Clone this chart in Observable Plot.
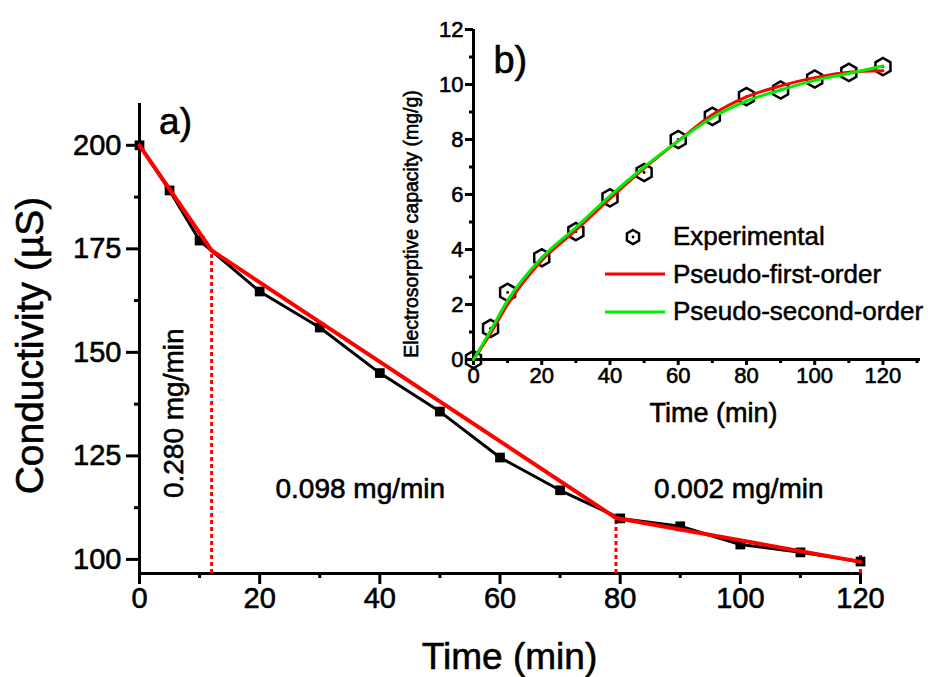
<!DOCTYPE html>
<html><head><meta charset="utf-8">
<script src="https://cdn.jsdelivr.net/npm/d3@7"></script>
<script src="https://cdn.jsdelivr.net/npm/@observablehq/plot@0.6"></script>
<style>
body{margin:0;background:#fff;}
#wrap{position:relative;width:931px;height:677px;overflow:hidden;}
#main{position:absolute;left:0;top:0;}
#inset{position:absolute;left:380px;top:0;}
#wrap svg text{stroke:#000;stroke-width:0.6px;}
#legend{position:absolute;left:600px;top:218px;font-family:"Liberation Sans",Arial,sans-serif;font-size:26px;color:#000;-webkit-text-stroke:0.5px #000;}
#legend .row{display:flex;align-items:center;height:37.5px;white-space:nowrap;}
#legend svg{width:73px;height:20px;flex:none;}
</style></head><body><div id="wrap"><div id="main"></div><div id="inset"></div><div id="legend"></div></div>
<script>
// ---- Panel a) data ----
const time = [0, 5, 10, 20, 30, 40, 50, 60, 70, 80, 90, 100, 110, 120];
const conductivity = [200, 189.1, 177, 164.7, 156, 145, 135.7, 124.6, 116.7, 109.9, 108, 103.6, 101.7, 99.5];
const fitTime = [0, 12, 79.3, 120];
const fitConductivity = [200, 174.6, 110, 99.4];
const breakTime = [12, 79.3, 120];
const breakTop = [174.6, 110, 101.5];
const rateLabels = ["0.280 mg/min", "0.098 mg/min", "0.002 mg/min"];
const rateX = [5.83, 36.75, 99.75];
const rateY = [135.3, 117.1, 117.1];
const rateRotate = [-90, 0, 0];
const xTicksA = [0, 20, 40, 60, 80, 100, 120];
const xMinorA = [10, 30, 50, 70, 90, 110];
const yTicksA = [100, 125, 150, 175, 200];
const yMinorA = [112.5, 137.5, 162.5, 187.5];

// ---- Panel b) data ----
const expTime = [0, 5, 10, 20, 30, 40, 50, 60, 70, 80, 90, 100, 110, 120];
const capacity = [0, 1.13, 2.44, 3.7, 4.65, 5.88, 6.8, 8.0, 8.84, 9.56, 9.8, 10.2, 10.44, 10.65];
const fitT = [0, 5, 10, 20, 30, 40, 50, 60, 70, 80, 90, 100, 110, 120];
const firstOrder = [0, 0.95, 2.0, 3.6, 4.7, 5.85, 6.95, 7.95, 8.9, 9.55, 9.95, 10.25, 10.45, 10.5];
const secondOrder = [0, 1.05, 2.15, 3.7, 4.8, 5.95, 7.0, 7.95, 8.8, 9.4, 9.8, 10.15, 10.4, 10.67];
const legendNames = ["Experimental", "Pseudo-first-order", "Pseudo-second-order"];
const xTicksB = [0, 20, 40, 60, 80, 100, 120];
const xMinorB = [10, 30, 50, 70, 90, 110, 130];
const yTicksB = [0, 2, 4, 6, 8, 10, 12];
const yMinorB = [1, 3, 5, 7, 9, 11];

const FONT = `"Liberation Sans",Arial,sans-serif`;

const dataA = time.map((t, i) => ({t, c: conductivity[i]}));
const fitA = fitTime.map((t, i) => ({t, c: fitConductivity[i]}));
const breaksA = breakTime.map((t, i) => ({t, top: breakTop[i]}));
const ratesA = rateLabels.map((s, i) => ({s, x: rateX[i], y: rateY[i], r: rateRotate[i]}));
const yMinA = 96.6, yMaxA = 210.1;

const main = Plot.plot({
  width: 931, height: 677,
  marginLeft: 139, marginRight: 71, marginTop: 103, marginBottom: 104,
  style: {fontFamily: FONT, background: "transparent", overflow: "visible", color: "#000"},
  x: {domain: [0, 120]},
  y: {domain: [yMinA, yMaxA]},
  marks: [
    Plot.axisX({ticks: xTicksA, tickSize: 11, tickPadding: 3, fontSize: 29, strokeWidth: 3, label: null}),
    Plot.axisX({ticks: xMinorA, tickSize: 5, strokeWidth: 3, text: null, label: null}),
    Plot.axisY({ticks: yTicksA, tickSize: 13, tickPadding: 5, fontSize: 29, strokeWidth: 3, label: null}),
    Plot.axisY({ticks: yMinorA, tickSize: 5, strokeWidth: 3, text: null, label: null}),
    Plot.ruleX([0], {y1: yMinA, y2: yMaxA, strokeWidth: 3}),
    Plot.ruleY([yMinA], {x1: 0, x2: 120, strokeWidth: 3}),
    Plot.ruleX(breaksA, {x: "t", y1: yMinA, y2: "top", stroke: "#ff0000", strokeWidth: 3, strokeDasharray: "4,3"}),
    Plot.line(dataA, {x: "t", y: "c", stroke: "#000", strokeWidth: 3}),
    Plot.dot(dataA, {x: "t", y: "c", symbol: "square", r: 5.5, fill: "#000", stroke: "none"}),
    Plot.line(fitA, {x: "t", y: "c", stroke: "#ff0000", strokeWidth: 4}),
    Plot.text(ratesA, {x: "x", y: "y", text: "s", rotate: "r", fontSize: 28, fill: "#000"}),
    Plot.text(["a)"], {x: 6, y: 205.6, fontSize: 37, fill: "#000"}),
    Plot.text(["Time (min)"], {frameAnchor: "bottom", textAnchor: "middle", lineAnchor: "middle", dx: 9.5, dy: 83.5, fontSize: 37, fill: "#000"}),
    Plot.text(["Conductivity (\u00b5S)"], {frameAnchor: "left", textAnchor: "middle", lineAnchor: "middle", dx: -108.5, dy: 7, rotate: -90, fontSize: 39, fill: "#000"})
  ]
});
document.getElementById("main").appendChild(main);

const expB = expTime.map((t, i) => ({t, q: capacity[i]}));
const fitsB = [
  ...fitT.map((t, i) => ({t, q: firstOrder[i], model: legendNames[1]})),
  ...fitT.map((t, i) => ({t, q: secondOrder[i], model: legendNames[2]}))
];
const colors = {[legendNames[1]]: "#ff0000", [legendNames[2]]: "#00ee00"};

const inset = Plot.plot({
  width: 551, height: 430,
  marginLeft: 93, marginRight: 11, marginTop: 29, marginBottom: 71,
  style: {fontFamily: FONT, background: "transparent", overflow: "visible", color: "#000"},
  x: {domain: [0, 131]},
  y: {domain: [0, 12]},
  marks: [
    Plot.axisX({ticks: xTicksB, tickSize: 6, tickPadding: 2, fontSize: 22, strokeWidth: 3, label: null}),
    Plot.axisX({ticks: xMinorB, tickSize: 4, strokeWidth: 3, text: null, label: null}),
    Plot.axisY({ticks: yTicksB, tickSize: 8, tickPadding: 2, fontSize: 22, strokeWidth: 3, label: null}),
    Plot.axisY({ticks: yMinorB, tickSize: 4, strokeWidth: 3, text: null, label: null}),
    Plot.ruleX([0], {y1: 0, y2: 12, strokeWidth: 3}),
    Plot.ruleY([0], {x1: 0, x2: 131, strokeWidth: 3}),
    Plot.dot(expB, {x: "t", y: "q", symbol: "hexagon", r: 7.5, stroke: "#000", strokeWidth: 2.5, fill: "none"}),
    Plot.dot(expB, {x: "t", y: "q", r: 1.4, fill: "#000", stroke: "none"}),
    Plot.line(fitsB, {x: "t", y: "q", z: "model", stroke: d => colors[d.model], strokeWidth: 3, curve: "monotone-x"}),
    Plot.text(["b)"], {x: 10.8, y: 10.87, fontSize: 38, fill: "#000"}),
    Plot.text(["Time (min)"], {frameAnchor: "bottom", textAnchor: "middle", lineAnchor: "middle", dx: 16.5, dy: 54, fontSize: 27, fill: "#000"}),
    Plot.text(["Electrosorptive capacity (mg/g)"], {frameAnchor: "left", textAnchor: "middle", lineAnchor: "middle", dx: -62, dy: 29.5, rotate: -90, fontSize: 19.5, fill: "#000"})
  ]
});
document.getElementById("inset").appendChild(inset);

// legend
const legend = document.getElementById("legend");
const ns = "http://www.w3.org/2000/svg";
legendNames.forEach((name, i) => {
  const row = document.createElement("div");
  row.className = "row";
  const svg = document.createElementNS(ns, "svg");
  if (i === 0) {
    const hex = document.createElementNS(ns, "path");
    const r = 7;
    const pts = d3.range(6).map(k => {
      const a = Math.PI / 3 * k - Math.PI / 2;
      return [33 + r * Math.cos(a), 10 + r * Math.sin(a)];
    });
    hex.setAttribute("d", "M" + pts.map(p => p.join(",")).join("L") + "Z");
    hex.setAttribute("fill", "none");
    hex.setAttribute("stroke", "#000");
    hex.setAttribute("stroke-width", "2.5");
    svg.appendChild(hex);
    const dot = document.createElementNS(ns, "circle");
    dot.setAttribute("cx", 33); dot.setAttribute("cy", 10); dot.setAttribute("r", 1.4);
    svg.appendChild(dot);
  } else {
    const ln = document.createElementNS(ns, "line");
    ln.setAttribute("x1", 5); ln.setAttribute("x2", 65);
    ln.setAttribute("y1", 10); ln.setAttribute("y2", 10);
    ln.setAttribute("stroke", colors[name]);
    ln.setAttribute("stroke-width", 3);
    svg.appendChild(ln);
  }
  row.appendChild(svg);
  const span = document.createElement("span");
  span.textContent = name;
  row.appendChild(span);
  legend.appendChild(row);
});
</script></body></html>
